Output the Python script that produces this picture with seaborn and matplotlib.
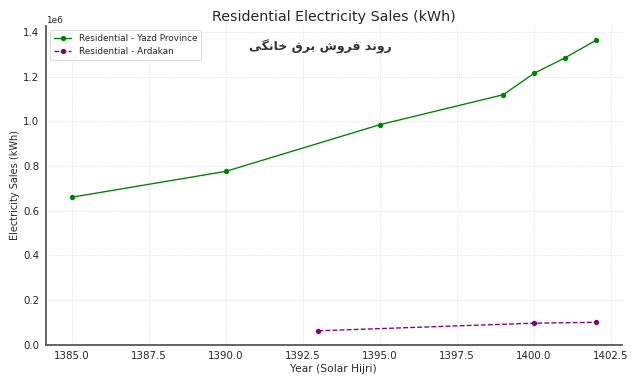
import pandas as pd
import matplotlib
matplotlib.use("Agg")
import matplotlib.pyplot as plt
import seaborn as sns

# Datos
years_yazd = [1385, 1390, 1395, 1399, 1400, 1401, 1402]
sales_yazd = [660000, 776000, 985000, 1119000, 1215000, 1284000, 1362000]

years_ardakan = [1393, 1400, 1402]
sales_ardakan = [62000, 96000, 100000]

title = "Residential Electricity Sales (kWh)"
xlabel = "Year (Solar Hijri)"
ylabel = "Electricity Sales (kWh)"
label_yazd = "Residential - Yazd Province"
label_ardakan = "Residential - Ardakan"

# "روند فروش برق خانگی" en formas de presentación árabes (orden visual)
annot_fa = ("\uFBFD\uFB95\uFEE7\uFE8E\uFEA7" + " " +
            "\uFED5\uFEAE\uFE91" + " " +
            "\uFEB5\uFEED\uFEAE\uFED3" + " " +
            "\uFEAA\uFEE7\uFEED\uFEAD")

sns.set_style("whitegrid", {
    "grid.linestyle": ":",
    "grid.color": "#d0d0d0",
    "axes.edgecolor": "#555555",
})
plt.rcParams["font.family"] = ["DejaVu Sans", "Noto Sans"]

df_yazd = pd.DataFrame({"year": years_yazd, "sales": sales_yazd})
df_ard = pd.DataFrame({"year": years_ardakan, "sales": sales_ardakan})

fig, ax = plt.subplots(figsize=(10, 6), dpi=64)

sns.lineplot(data=df_yazd, x="year", y="sales", marker="o", color="green",
             markeredgewidth=0, markersize=6, linewidth=1.5,
             label=label_yazd, ax=ax)
sns.lineplot(data=df_ard, x="year", y="sales", marker="o", color="purple",
             markeredgewidth=0, markersize=6, linewidth=1.5, linestyle="--",
             label=label_ardakan, ax=ax)

ax.set_ylim(bottom=0)
ax.set_title(title, fontsize=16)
ax.set_xlabel(xlabel, fontsize=12)
ax.set_ylabel(ylabel, fontsize=11)
ax.tick_params(labelsize=11.5)
ax.text(0.476, 0.935, annot_fa, transform=ax.transAxes, ha="center", va="center",
        fontsize=14, fontweight="bold", color="#333333")

for side in ["top", "right"]:
    ax.spines[side].set_visible(False)
for side in ["left", "bottom"]:
    ax.spines[side].set_linewidth(2)

ax.legend(loc="upper left", fontsize=10)

plt.tight_layout()
plt.savefig("out.png", dpi=64)
